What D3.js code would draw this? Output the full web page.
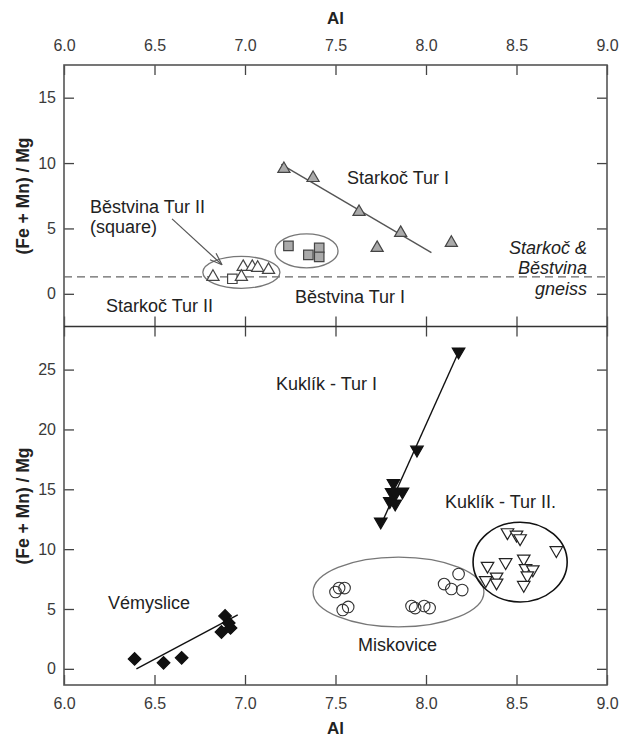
<!DOCTYPE html>
<html><head><meta charset="utf-8">
<script src="https://cdn.jsdelivr.net/npm/d3@7"></script>
<style>
body{margin:0;background:#fff;}
svg text{font-family:"Liberation Sans",Arial,sans-serif;}
</style></head>
<body><svg id="c" width="620" height="738"></svg>
<script>
// ---------- DATA ----------
const xTicks = [6.0, 6.5, 7.0, 7.5, 8.0, 8.5, 9.0];
const yTicksTop = [0, 5, 10, 15];
const yTicksBot = [0, 5, 10, 15, 20, 25];

// Top panel
const starkocTurI_Al = [7.215, 7.376, 7.63, 7.86, 7.73, 8.14];
const starkocTurI_R  = [9.55, 8.86, 6.26, 4.66, 3.51, 3.90];
const starkocTurI_fit = [[7.20, 9.9], [8.03, 3.15]];

const bestvinaTurI_Al = [7.24, 7.35, 7.41, 7.41];
const bestvinaTurI_R  = [3.67, 2.98, 3.51, 2.83];

const starkocTurII_Al = [6.823, 6.99, 7.04, 7.07, 7.13, 6.98];
const starkocTurII_R  = [1.30, 2.06, 2.06, 1.99, 1.83, 1.30];

const bestvinaTurII_Al = [6.93];
const bestvinaTurII_R  = [1.15];

const gneissLevel = 1.3;

// Bottom panel
const kuklikTurI_Al = [8.18, 7.95, 7.82, 7.87, 7.81, 7.83, 7.80, 7.83, 7.75];
const kuklikTurI_R  = [26.5, 18.3, 15.5, 14.8, 14.75, 14.6, 14.0, 13.8, 12.3];
const kuklikTurI_fit = [[8.19, 26.8], [7.75, 12.0]];

const kuklikTurII_Al = [8.45, 8.50, 8.52, 8.72, 8.44, 8.54, 8.34, 8.55, 8.59, 8.56, 8.39, 8.33, 8.39, 8.54];
const kuklikTurII_R  = [11.4, 11.2, 10.9, 9.9, 8.9, 9.2, 8.6, 8.4, 8.3, 7.8, 7.7, 7.4, 7.2, 7.0];

const miskovice_Al = [7.50, 7.52, 7.55, 7.54, 7.57, 7.92, 7.94, 7.99, 8.02, 8.10, 8.14, 8.18, 8.20];
const miskovice_R  = [6.42, 6.75, 6.75, 4.92, 5.17, 5.25, 5.08, 5.25, 5.08, 7.08, 6.67, 7.92, 6.58];

const vemyslice_Al = [6.39, 6.55, 6.65, 6.89, 6.87, 6.91, 6.92];
const vemyslice_R  = [0.83, 0.50, 0.92, 4.42, 3.08, 3.83, 3.42];
const vemyslice_fit = [[6.40, 0.0], [6.96, 4.5]];

// ---------- LAYOUT ----------
const svg = d3.select("#c");
const L = 64, R = 607, T1 = 65, B1 = 326.5, T2 = 326.5, B2 = 685;
const x = d3.scaleLinear().domain([6, 9]).range([L, R]);
const yT = d3.scaleLinear().domain([-2.5, 17.5]).range([B1, T1]);
const yB = d3.scaleLinear().domain([-1.35, 28.6]).range([B2, T2]);

const frameCol = "#555", tickCol = "#444", txtCol = "#222";

function styleAxis(g, labels) {
  g.select(".domain").remove();
  g.selectAll(".tick line").attr("stroke", tickCol).attr("stroke-width", 1.3);
  g.selectAll(".tick text").attr("fill", "#3a3a3a").style("font-size", "16px")
    .style("font-family", "'Liberation Sans',Arial,sans-serif");
  if (!labels) g.selectAll(".tick text").remove();
}

// x axes
svg.append("g").attr("transform", `translate(0,${T1})`)
  .call(d3.axisTop(x).tickValues(xTicks).tickFormat(d3.format(".1f")).tickSize(-10).tickPadding(14))
  .call(g => styleAxis(g, true));
svg.append("g").attr("transform", `translate(0,${B1})`)
  .call(d3.axisBottom(x).tickValues(xTicks).tickSize(-10))
  .call(g => styleAxis(g, false));
svg.append("g").attr("transform", `translate(0,${T2})`)
  .call(d3.axisTop(x).tickValues(xTicks).tickSize(-10))
  .call(g => styleAxis(g, false));
svg.append("g").attr("transform", `translate(0,${B2})`)
  .call(d3.axisBottom(x).tickValues(xTicks).tickFormat(d3.format(".1f")).tickSize(-10).tickPadding(13))
  .call(g => styleAxis(g, true));

// y axes
svg.append("g").attr("transform", `translate(${L},0)`)
  .call(d3.axisLeft(yT).tickValues(yTicksTop).tickSize(-10).tickPadding(8))
  .call(g => styleAxis(g, true));
svg.append("g").attr("transform", `translate(${R},0)`)
  .call(d3.axisRight(yT).tickValues(yTicksTop).tickSize(-10))
  .call(g => styleAxis(g, false));
svg.append("g").attr("transform", `translate(${L},0)`)
  .call(d3.axisLeft(yB).tickValues(yTicksBot).tickSize(-10).tickPadding(8))
  .call(g => styleAxis(g, true));
svg.append("g").attr("transform", `translate(${R},0)`)
  .call(d3.axisRight(yB).tickValues(yTicksBot).tickSize(-10))
  .call(g => styleAxis(g, false));

// frames
svg.append("rect").attr("x", L).attr("y", T1).attr("width", R - L).attr("height", B2 - T1)
  .attr("fill", "none").attr("stroke", frameCol).attr("stroke-width", 1.6);
svg.append("line").attr("x1", L).attr("x2", R).attr("y1", B1).attr("y2", B1)
  .attr("stroke", "#333").attr("stroke-width", 1.6);

// axis titles
svg.append("text").attr("x", x(7.5)).attr("y", 18).attr("text-anchor", "middle")
  .attr("dominant-baseline", "central").style("font-size", "17px").style("font-weight", "bold").attr("fill", txtCol).text("Al");
svg.append("text").attr("x", x(7.5)).attr("y", 728).attr("text-anchor", "middle")
  .attr("dominant-baseline", "central").style("font-size", "17px").style("font-weight", "bold").attr("fill", txtCol).text("Al");
[[196], [506]].forEach(([cy]) => {
  svg.append("text").attr("transform", `translate(23,${cy}) rotate(-90)`).attr("text-anchor", "middle")
    .attr("dominant-baseline", "central").style("font-size", "17.5px").style("font-weight", "bold")
    .attr("fill", txtCol).text("(Fe + Mn) / Mg");
});

// helpers
function ellipse(ys, cx, cy, rx, ry, col, w) {
  svg.append("ellipse").attr("cx", x(cx)).attr("cy", ys(cy))
    .attr("rx", x(cx + rx) - x(cx)).attr("ry", ys(cy - ry) - ys(cy))
    .attr("fill", "none").attr("stroke", col).attr("stroke-width", w);
}
function fitLine(ys, pts, col, w) {
  svg.append("line").attr("x1", x(pts[0][0])).attr("y1", ys(pts[0][1]))
    .attr("x2", x(pts[1][0])).attr("y2", ys(pts[1][1]))
    .attr("stroke", col).attr("stroke-width", w);
}
function points(ys, xs, vs, type, size, fill, stroke, rot) {
  const sym = d3.symbol().type(type).size(size);
  svg.append("g").selectAll("path").data(xs.map((a, i) => [a, vs[i]])).join("path")
    .attr("transform", d => `translate(${x(d[0])},${ys(d[1])}) rotate(${rot || 0})`)
    .attr("d", sym).attr("fill", fill).attr("stroke", stroke).attr("stroke-width", 1.2);
}
function label(ys, a, v, txt, anchor, opts = {}) {
  svg.append("text").attr("x", x(a)).attr("y", ys(v)).attr("text-anchor", anchor)
    .attr("dominant-baseline", "central").style("font-size", (opts.size || 18) + "px")
    .style("font-style", opts.italic ? "italic" : "normal").attr("fill", txtCol).text(txt);
}

// ---------- TOP PANEL ----------
svg.append("line").attr("x1", L).attr("x2", R).attr("y1", yT(gneissLevel)).attr("y2", yT(gneissLevel))
  .attr("stroke", "#666").attr("stroke-width", 1.2).attr("stroke-dasharray", "8,5");

ellipse(yT, 6.98, 1.64, 0.213, 1.22, "#777", 1.3);
ellipse(yT, 7.34, 3.28, 0.174, 1.30, "#777", 1.3);
fitLine(yT, starkocTurI_fit, "#555", 1.4);

points(yT, starkocTurI_Al, starkocTurI_R, d3.symbolTriangle, 64, "#aaa", "#444");
points(yT, bestvinaTurI_Al, bestvinaTurI_R, d3.symbolSquare, 90, "#aaa", "#444");
points(yT, bestvinaTurII_Al, bestvinaTurII_R, d3.symbolSquare, 90, "#fff", "#444");
points(yT, starkocTurII_Al, starkocTurII_R, d3.symbolTriangle, 64, "#fff", "#444");

// arrow
const ax1 = x(6.597), ay1 = yT(5.73), ax2 = x(6.873), ay2 = yT(2.22);
svg.append("line").attr("x1", ax1).attr("y1", ay1).attr("x2", ax2).attr("y2", ay2)
  .attr("stroke", "#555").attr("stroke-width", 1.2);
const ang = Math.atan2(ay2 - ay1, ax2 - ax1), hl = 13, ha = 0.35;
[ang + Math.PI - ha, ang + Math.PI + ha].forEach(t => {
  svg.append("line").attr("x1", ax2).attr("y1", ay2)
    .attr("x2", ax2 + hl * Math.cos(t)).attr("y2", ay2 + hl * Math.sin(t))
    .attr("stroke", "#555").attr("stroke-width", 1.2);
});

label(yT, 7.564, 8.87, "Starkoč Tur I", "start");
label(yT, 6.144, 6.65, "Běstvina Tur II", "start");
label(yT, 6.144, 5.12, "(square)", "start");
label(yT, 6.232, -0.92, "Starkoč Tur II", "start");
label(yT, 7.884, -0.23, "Běstvina Tur I", "end");
label(yT, 8.89, 3.52, "Starkoč &", "end", {italic: true});
label(yT, 8.89, 1.99, "Běstvina", "end", {italic: true});
label(yT, 8.89, 0.38, "gneiss", "end", {italic: true});

// ---------- BOTTOM PANEL ----------
ellipse(yB, 7.848, 6.42, 0.472, 2.92, "#777", 1.3);
ellipse(yB, 8.52, 8.92, 0.26, 3.33, "#111", 1.6);
fitLine(yB, kuklikTurI_fit, "#111", 1.4);
fitLine(yB, vemyslice_fit, "#111", 1.4);

points(yB, kuklikTurI_Al, kuklikTurI_R, d3.symbolTriangle, 68, "#111", "#111", 180);
points(yB, kuklikTurII_Al, kuklikTurII_R, d3.symbolTriangle, 68, "#fff", "#222", 180);
svg.append("g").selectAll("circle").data(miskovice_Al.map((a, i) => [a, miskovice_R[i]])).join("circle")
  .attr("cx", d => x(d[0])).attr("cy", d => yB(d[1])).attr("r", 5.8)
  .attr("fill", "none").attr("stroke", "#333").attr("stroke-width", 1.1);
points(yB, vemyslice_Al, vemyslice_R, d3.symbolSquare, 80, "#111", "#111", 45);

label(yB, 7.171, 23.83, "Kuklík - Tur I", "start");
label(yB, 8.105, 13.92, "Kuklík - Tur II.", "start");
label(yB, 6.243, 5.5, "Vémyslice", "start");
label(yB, 7.624, 2.0, "Miskovice", "start");
</script></body></html>
